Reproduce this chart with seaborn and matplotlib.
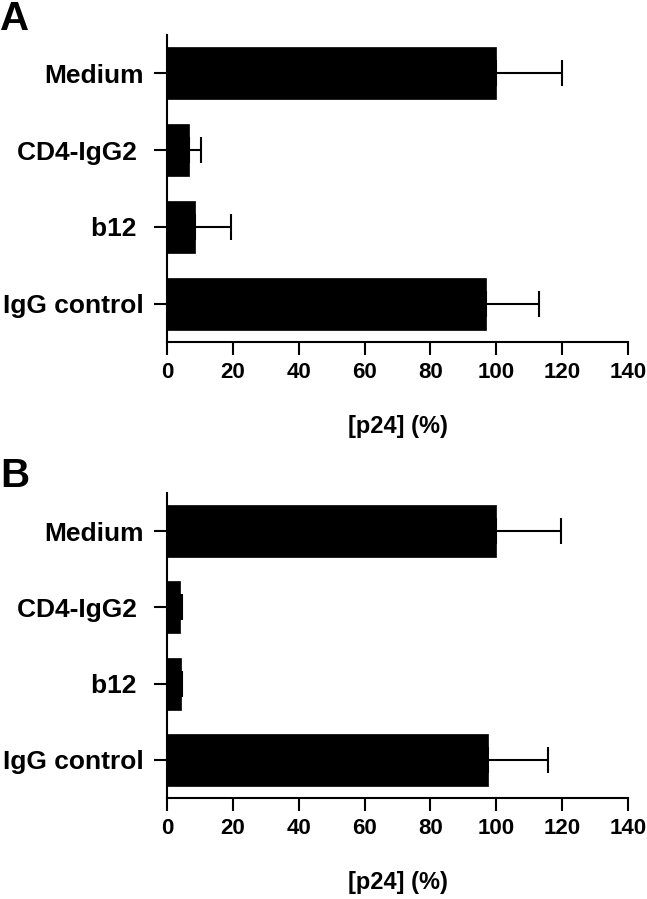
import numpy as np
import pandas as pd
import matplotlib
matplotlib.use('Agg')
import matplotlib.pyplot as plt
import seaborn as sns

categories = ['Medium', 'CD4-IgG2 ', 'b12 ', 'IgG control']

# panel A
p24_a = [100.0, 6.7, 8.4, 96.8]
err_a = [20.0, 3.6, 10.9, 16.3]

# panel B
p24_b = [100.0, 3.9, 4.2, 97.4]
err_b = [19.6, 0.7, 0.5, 18.3]

x_ticks = [0, 20, 40, 60, 80, 100, 120, 140]

sns.set_style('ticks')
plt.rcParams['font.family'] = ['Liberation Sans', 'DejaVu Sans']
plt.rcParams['font.weight'] = 'bold'
plt.rcParams['text.color'] = 'black'
plt.rcParams['axes.labelcolor'] = 'black'
plt.rcParams['xtick.color'] = 'black'
plt.rcParams['ytick.color'] = 'black'

fig = plt.figure(figsize=(6.47, 8.99), dpi=100)
ax_a = fig.add_axes([0.2581, 0.6196, 0.7125, 0.3415])
ax_b = fig.add_axes([0.2581, 0.1123, 0.7125, 0.3393])


def draw_panel(ax, vals, errs):
    df = pd.DataFrame({'cond': categories, 'p24': vals})
    sns.barplot(data=df, x='p24', y='cond', orient='h', color='black',
                width=0.68, edgecolor='black', linewidth=0.5, ax=ax)
    ax.errorbar(vals, np.arange(len(vals)), xerr=[np.zeros(len(errs)), errs],
                fmt='none', ecolor='black', elinewidth=1.5,
                capsize=9.5, capthick=1.5, zorder=1)
    ax.set_xlim(0, 140)
    ax.set_ylim(3.5, -0.5)
    ax.set_xticks(x_ticks)
    ax.set_xlabel('[p24] (%)', fontsize=17, fontweight='bold', labelpad=23)
    ax.set_ylabel('')
    ax.tick_params(axis='both', length=9.5, width=1.5, color='black')
    ax.tick_params(axis='x', labelsize=16, pad=5)
    ax.tick_params(axis='y', labelsize=19, pad=7)
    for lab in ax.get_xticklabels() + ax.get_yticklabels():
        lab.set_fontweight('bold')
    sns.despine(ax=ax)
    for s in ['left', 'bottom']:
        ax.spines[s].set_linewidth(1.5)
        ax.spines[s].set_color('black')


draw_panel(ax_a, p24_a, err_a)
draw_panel(ax_b, p24_b, err_b)

fig.text(0.0, 1.0, 'A', fontsize=29, fontweight='bold', ha='left', va='top')
fig.text(0.0, 0.492, 'B', fontsize=29, fontweight='bold', ha='left', va='top')

fig.savefig('out.png', dpi=100)
